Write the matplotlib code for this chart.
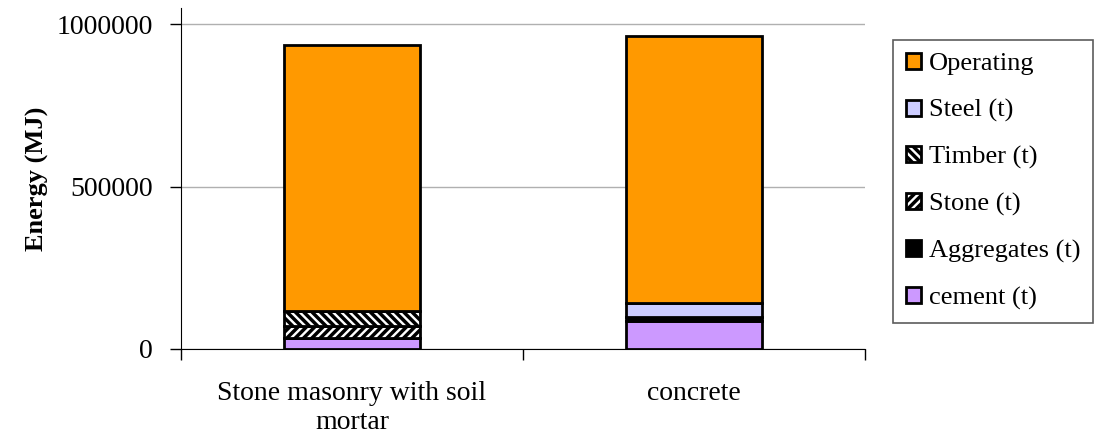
import matplotlib
matplotlib.use("Agg")
import matplotlib.pyplot as plt
import numpy as np

plt.rcParams['font.family'] = ['Liberation Serif', 'DejaVu Serif']
plt.rcParams['hatch.linewidth'] = 2.5

categories = ["Stone masonry with soil\nmortar", "concrete"]
components = ["cement (t)", "Aggregates (t)", "Stone (t)", "Timber (t)", "Steel (t)", "Operating"]
cement = [33000, 87000]
aggregates = [0, 12000]
stone = [37000, 0]
timber = [47000, 0]
steel = [0, 42000]
operating = [818000, 822000]
yticks = [0, 500000, 1000000]

series = [cement, aggregates, stone, timber, steel, operating]
colors = ["#cc99ff", "#000000", "#ffffff", "#ffffff", "#ccccff", "#ff9900"]
hatches = [None, None, "////", "\\\\\\\\", None, None]

fig = plt.figure(figsize=(10.95, 4.41), dpi=100)
ax = fig.add_axes([181/1095, 1-349/441, (865-181)/1095, 341/441])

x = np.arange(len(categories))
bottom = np.zeros(len(categories))
handles = []
for name, vals, c, h in zip(components, series, colors, hatches):
    vals = np.array(vals, dtype=float)
    b = ax.bar(x, vals, 0.4, bottom=bottom, color=c, hatch=h,
               edgecolor="black", linewidth=2, label=name, zorder=3)
    handles.append(b)
    bottom += vals

ax.set_xlim(-0.5, 1.5)
ax.set_ylim(0, 1050000)
ax.set_yticks(yticks)
ax.set_yticklabels([str(v) for v in yticks], fontsize=20)
ax.yaxis.grid(True, color="#b0b0b0", linewidth=1, zorder=0)
ax.set_xticks([-0.5, 0.5, 1.5])
ax.set_xticklabels([])
ax.set_xticks(x, minor=True)
ax.set_xticklabels(categories, minor=True, fontsize=20, linespacing=1.2)
ax.tick_params(axis="x", which="minor", length=0, pad=23)
ax.tick_params(axis="x", which="major", length=8, direction="out", width=1)
ax.tick_params(axis="y", length=8, direction="out", width=1, pad=12)
ax.spines["top"].set_visible(False)
ax.spines["right"].set_visible(False)
ax.set_ylabel("Energy (MJ)", fontsize=19, fontweight="bold", labelpad=6)

leg = fig.legend(handles[::-1], components[::-1], loc="upper left",
                 bbox_to_anchor=(893/1095, 1-40/441), fontsize=19,
                 frameon=True, fancybox=False, edgecolor="#333333",
                 handlelength=0.55, handleheight=0.55, handletextpad=0.3,
                 labelspacing=0.9, borderpad=0.5, borderaxespad=0)
leg.get_frame().set_linewidth(1.2)

fig.savefig("out.png", dpi=100)
